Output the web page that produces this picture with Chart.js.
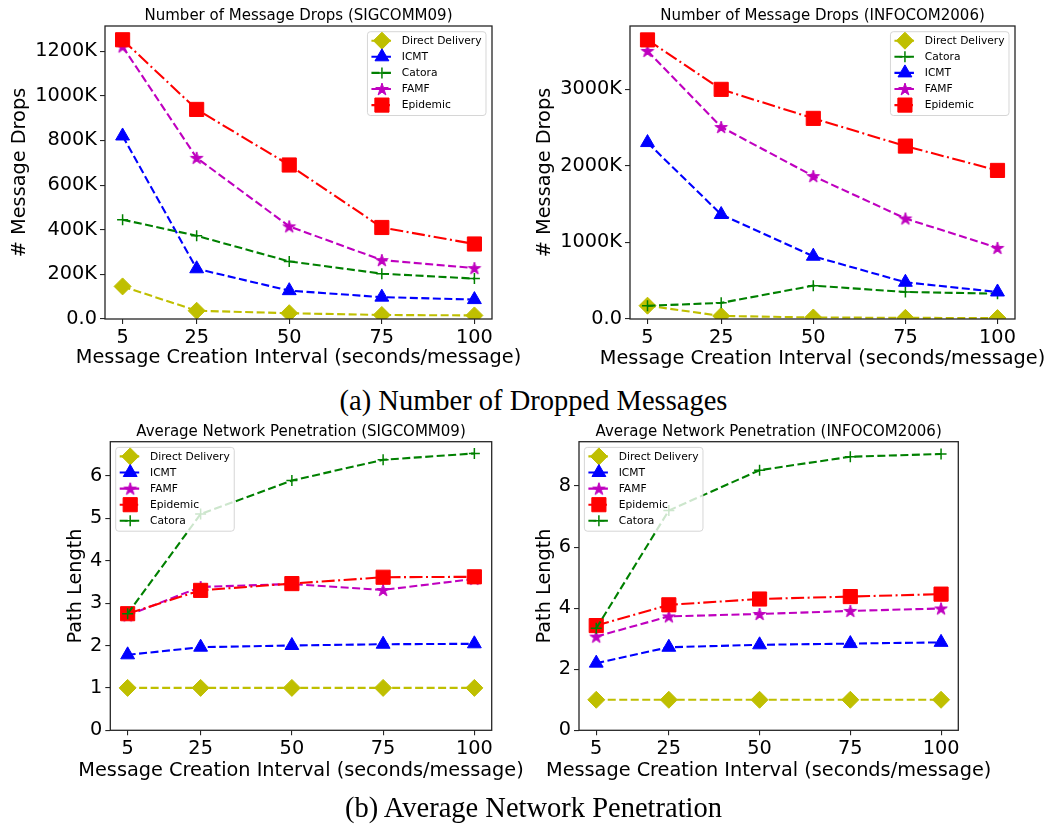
<!DOCTYPE html>
<html>
<head>
<meta charset="utf-8">
<script src="https://cdn.jsdelivr.net/npm/chart.js@4.4.1/dist/chart.umd.min.js"></script>
<style>
  html, body { margin: 0; padding: 0; background: #fff; }
  body { width: 1064px; height: 828px; position: relative; overflow: hidden; }
  .panel { position: absolute; }
  .panel canvas { display: block; }
  .caption {
    position: absolute; left: 0; width: 1067px; text-align: center;
    font-family: "Liberation Serif", "Times New Roman", serif;
    font-size: 28.5px; line-height: 28.5px; color: #000; white-space: nowrap;
  }
</style>
</head>
<body>
<div class="panel" style="left:0;top:0"><canvas id="dropsSigcomm" width="530" height="380"></canvas></div>
<div class="panel" style="left:530px;top:0"><canvas id="dropsInfocom" width="534" height="380"></canvas></div>
<div class="caption" style="top:386.8px">(a) Number of Dropped Messages</div>
<div class="panel" style="left:0;top:415px"><canvas id="pathSigcomm" width="530" height="380"></canvas></div>
<div class="panel" style="left:530px;top:415px"><canvas id="pathInfocom" width="534" height="380"></canvas></div>
<div class="caption" style="top:794.4px">(b) Average Network Penetration</div>

<script>
// ---- data ---------------------------------------------------------------
const intervals = [5, 25, 50, 75, 100];          // seconds / message
const xTickValues = [5, 25, 50, 75, 100];
const xAxisLabel = 'Message Creation Interval (seconds/message)';

// Number of dropped messages, in thousands (SIGCOMM09)
const sigDropsDirect   = [146, 37, 26, 18, 16];
const sigDropsIcmt     = [820, 225, 127, 98, 87];
const sigDropsCatora   = [445, 373, 258, 203, 181];
const sigDropsFamf     = [1221, 722, 415, 264, 228];
const sigDropsEpidemic = [1251, 939, 690, 410, 336];
const sigDropsTicks    = [0, 200, 400, 600, 800, 1000, 1200];

// Number of dropped messages, in thousands (INFOCOM2006)
const infDropsDirect   = [174, 40, 20, 15, 12];
const infDropsCatora   = [172, 211, 436, 353, 331];
const infDropsIcmt     = [2305, 1365, 820, 480, 353];
const infDropsFamf     = [3502, 2508, 1867, 1313, 929];
const infDropsEpidemic = [3646, 3000, 2621, 2259, 1941];
const infDropsTicks    = [0, 1000, 2000, 3000];

// Average path length (SIGCOMM09)
const sigPathDirect   = [1, 1, 1, 1, 1];
const sigPathIcmt     = [1.78, 1.96, 2.00, 2.03, 2.04];
const sigPathFamf     = [2.71, 3.38, 3.45, 3.31, 3.57];
const sigPathEpidemic = [2.75, 3.30, 3.46, 3.61, 3.62];
const sigPathCatora   = [2.75, 5.10, 5.89, 6.38, 6.53];
const sigPathTicks    = [0, 1, 2, 3, 4, 5, 6];

// Average path length (INFOCOM2006)
const infPathDirect   = [1, 1, 1, 1, 1];
const infPathIcmt     = [2.20, 2.72, 2.80, 2.84, 2.88];
const infPathFamf     = [3.07, 3.73, 3.81, 3.91, 3.99];
const infPathEpidemic = [3.43, 4.11, 4.30, 4.38, 4.46];
const infPathCatora   = [3.34, 7.20, 8.52, 8.96, 9.05];
const infPathTicks    = [0, 2, 4, 6, 8];

// ---- styles -------------------------------------------------------------
const FONT = '"DejaVu Sans", "Liberation Sans", sans-serif';
const AXIS_FONT_SIZE = 19.3;
const DASH = [8, 3.5];
const DASH_DOT = [13, 3.5, 2, 3.5];

function makeStar(R, color) {
  const c = document.createElement('canvas');
  const s = Math.ceil(2 * R + 4);
  c.width = c.height = s;
  const g = c.getContext('2d');
  g.beginPath();
  for (let i = 0; i < 10; i++) {
    const r = i % 2 ? R * 0.382 : R;
    const a = -Math.PI / 2 + i * Math.PI / 5;
    g.lineTo(s / 2 + r * Math.cos(a), s / 2 + r * Math.sin(a) + 0.6);
  }
  g.closePath();
  g.fillStyle = color; g.fill();
  g.strokeStyle = color; g.lineWidth = 1; g.stroke();
  return c;
}

const seriesStyle = {
  'Direct Delivery': { color: '#bfbf00', point: 'rectRot',  radius: 8.5, dash: DASH },
  'ICMT':            { color: '#0000ff', point: 'triangle', radius: 8,   dash: DASH },
  'Catora':          { color: '#008000', point: 'cross',    radius: 5.5, dash: DASH },
  'FAMF':            { color: '#bf00bf', point: makeStar(6.6, '#bf00bf'), radius: 6.6, dash: DASH },
  'Epidemic':        { color: '#ff0000', point: 'rect',     radius: 10,  dash: DASH_DOT }
};

// ---- marker drawing for the legend ---------------------------------------
function drawMarker(ctx, style, x, y) {
  const r = style.radius, p = style.point;
  ctx.save();
  ctx.fillStyle = style.color; ctx.strokeStyle = style.color;
  ctx.setLineDash([]);
  if (typeof p !== 'string') {
    ctx.drawImage(p, x - p.width / 2, y - p.height / 2);
    ctx.restore();
    return;
  }
  ctx.beginPath();
  if (p === 'rectRot') {
    ctx.moveTo(x - r, y); ctx.lineTo(x, y - r); ctx.lineTo(x + r, y); ctx.lineTo(x, y + r); ctx.closePath();
    ctx.lineWidth = 1; ctx.fill(); ctx.stroke();
  } else if (p === 'triangle') {
    for (let k = 0; k < 3; k++) {
      const a = k * 2 * Math.PI / 3;
      ctx.lineTo(x + Math.sin(a) * r, y - Math.cos(a) * r);
    }
    ctx.closePath(); ctx.lineWidth = 1; ctx.fill(); ctx.stroke();
  } else if (p === 'rect') {
    const h = r * Math.SQRT1_2;
    ctx.rect(x - h, y - h, 2 * h, 2 * h);
    ctx.lineWidth = 1; ctx.fill(); ctx.stroke();
  } else if (p === 'cross') {
    ctx.moveTo(x - r, y); ctx.lineTo(x + r, y); ctx.moveTo(x, y - r); ctx.lineTo(x, y + r);
    ctx.lineWidth = 1.5; ctx.stroke();
  }
  ctx.restore();
}

// ---- frame, titles and legend --------------------------------------------
const panelDecor = {
  id: 'panelDecor',
  afterDatasetsDraw(chart) {
    const { ctx, chartArea: a } = chart;
    ctx.save();
    ctx.strokeStyle = '#262626';
    ctx.lineWidth = 1.3;
    ctx.strokeRect(a.left, a.top, a.right - a.left, a.bottom - a.top);
    ctx.restore();
  },
  afterDraw(chart, args, opts) {
    const { ctx, chartArea: a } = chart;
    const cx = (a.left + a.right) / 2;
    ctx.save();
    ctx.fillStyle = '#000';
    ctx.textAlign = 'center';

    // panel title
    ctx.font = '15px ' + FONT;
    ctx.textBaseline = 'alphabetic';
    ctx.fillText(opts.title, cx, a.top - 6);

    // x-axis label, allowed to run wider than the axes
    ctx.font = AXIS_FONT_SIZE + 'px ' + FONT;
    ctx.textBaseline = 'middle';
    ctx.fillText(opts.xLabel, cx, opts.xLabelY);

    // legend
    const names = chart.data.datasets.map(d => d.label);
    ctx.font = '10.7px ' + FONT;
    const textW = Math.max(...names.map(n => ctx.measureText(n).width));
    const padL = 4, handleW = 21, gap = 9.3, padR = 4.5, rowH = 16.1;
    const boxW = padL + handleW + gap + textW + padR;
    const boxH = 9 + (names.length - 1) * rowH + 10.4;
    const bx = opts.legend === 'right' ? a.right - 6 - boxW : a.left + 5.4;
    const by = a.top + 5.7;
    ctx.beginPath();
    ctx.roundRect(bx, by, boxW, boxH, 3);
    ctx.fillStyle = 'rgba(255,255,255,0.8)';
    ctx.fill();
    ctx.strokeStyle = 'rgba(204,204,204,0.8)';
    ctx.lineWidth = 1;
    ctx.stroke();
    names.forEach((n, i) => {
      const st = seriesStyle[n];
      const cy = by + 9 + i * rowH;
      const hx = bx + padL;
      ctx.save();
      ctx.strokeStyle = st.color;
      ctx.lineWidth = 2.1;
      ctx.setLineDash(st.dash);
      ctx.beginPath();
      ctx.moveTo(hx, cy); ctx.lineTo(hx + handleW, cy);
      ctx.stroke();
      ctx.restore();
      drawMarker(ctx, st, hx + handleW / 2, cy);
      ctx.fillStyle = '#000';
      ctx.textAlign = 'left';
      ctx.textBaseline = 'middle';
      ctx.fillText(n, hx + handleW + gap, cy + 0.5);
    });
    ctx.restore();
  }
};

// ---- chart factory --------------------------------------------------------
function buildPanel(canvasId, cfg) {
  const all = cfg.series.flatMap(s => s[1]);
  const dMax = Math.max(...all), dMin = Math.min(...all);
  const yMax = dMax + 0.05 * (dMax - dMin);
  const xSpan = intervals[intervals.length - 1] - intervals[0];
  const n = cfg.series.length;

  const datasets = cfg.series.map(([name, values], i) => {
    const st = seriesStyle[name];
    return {
      label: name,
      data: values.map((v, k) => ({ x: intervals[k], y: v })),
      borderColor: st.color,
      backgroundColor: st.color,
      borderWidth: 2.1,
      borderDash: st.dash,
      pointStyle: st.point,
      pointRadius: st.radius,
      pointBorderWidth: st.point === 'cross' ? 1.5 : 1,
      pointBackgroundColor: st.color,
      pointBorderColor: st.color,
      tension: 0,
      fill: false,
      clip: 0,
      order: n - i
    };
  });

  const tickFont = { family: FONT, size: AXIS_FONT_SIZE };
  return new Chart(document.getElementById(canvasId), {
    type: 'line',
    data: { datasets },
    plugins: [panelDecor],
    options: {
      responsive: false,
      animation: false,
      events: [],
      layout: { padding: { top: cfg.padTop, right: cfg.padRight, left: 0, bottom: 0 } },
      plugins: {
        legend: { display: false },
        tooltip: { enabled: false },
        panelDecor: { title: cfg.title, legend: cfg.legend, xLabel: xAxisLabel, xLabelY: cfg.xLabelY }
      },
      scales: {
        x: {
          type: 'linear',
          min: intervals[0] - 0.05 * xSpan,
          max: intervals[intervals.length - 1] + 0.05 * xSpan,
          afterBuildTicks: s => { s.ticks = xTickValues.map(v => ({ value: v })); },
          afterFit: s => { s.height = cfg.xAxisH; },
          ticks: { color: '#000', font: tickFont, padding: 2, maxRotation: 0, autoSkip: false,
                   callback: v => String(v) },
          grid: { drawOnChartArea: false, drawTicks: true, tickLength: 5, color: '#262626', lineWidth: 1.1 },
          border: { display: false },
          title: { display: false }
        },
        y: {
          type: 'linear',
          min: 0,
          max: yMax,
          afterBuildTicks: s => { s.ticks = cfg.yTicks.map(v => ({ value: v })); },
          afterFit: s => { s.width = cfg.yAxisW; },
          ticks: { color: '#000', font: tickFont, padding: 3,
                   callback: v => cfg.thousands ? (v === 0 ? '0.0' : v + 'K') : String(v) },
          grid: { drawOnChartArea: false, drawTicks: true, tickLength: 5, color: '#262626', lineWidth: 1.1 },
          border: { display: false },
          title: { display: true, text: cfg.yLabel, color: '#000', font: tickFont,
                   padding: { top: cfg.yTitlePad, bottom: 0 } }
        }
      }
    }
  });
}

buildPanel('dropsSigcomm', {
  title: 'Number of Message Drops (SIGCOMM09)', yLabel: '# Message Drops', thousands: true,
  yTicks: sigDropsTicks, legend: 'right',
  series: [['Direct Delivery', sigDropsDirect], ['ICMT', sigDropsIcmt], ['Catora', sigDropsCatora],
           ['FAMF', sigDropsFamf], ['Epidemic', sigDropsEpidemic]],
  padTop: 26, padRight: 38, yAxisW: 105, xAxisH: 61, yTitlePad: 8.4, xLabelY: 358
});

buildPanel('dropsInfocom', {
  title: 'Number of Message Drops (INFOCOM2006)', yLabel: '# Message Drops', thousands: true,
  yTicks: infDropsTicks, legend: 'right',
  series: [['Direct Delivery', infDropsDirect], ['Catora', infDropsCatora], ['ICMT', infDropsIcmt],
           ['FAMF', infDropsFamf], ['Epidemic', infDropsEpidemic]],
  padTop: 26, padRight: 49, yAxisW: 100, xAxisH: 61, yTitlePad: 3.4, xLabelY: 359
});

buildPanel('pathSigcomm', {
  title: 'Average Network Penetration (SIGCOMM09)', yLabel: 'Path Length', thousands: false,
  yTicks: sigPathTicks, legend: 'left',
  series: [['Direct Delivery', sigPathDirect], ['ICMT', sigPathIcmt], ['FAMF', sigPathFamf],
           ['Epidemic', sigPathEpidemic], ['Catora', sigPathCatora]],
  padTop: 26.7, padRight: 38.3, yAxisW: 110.3, xAxisH: 64.7, yTitlePad: 64.4, xLabelY: 355.7
});

buildPanel('pathInfocom', {
  title: 'Average Network Penetration (INFOCOM2006)', yLabel: 'Path Length', thousands: false,
  yTicks: infPathTicks, legend: 'left',
  series: [['Direct Delivery', infPathDirect], ['ICMT', infPathIcmt], ['FAMF', infPathFamf],
           ['Epidemic', infPathEpidemic], ['Catora', infPathCatora]],
  padTop: 26.7, padRight: 105.7, yAxisW: 49, xAxisH: 64.7, yTitlePad: 3.4, xLabelY: 355.7
});
</script>
</body>
</html>
